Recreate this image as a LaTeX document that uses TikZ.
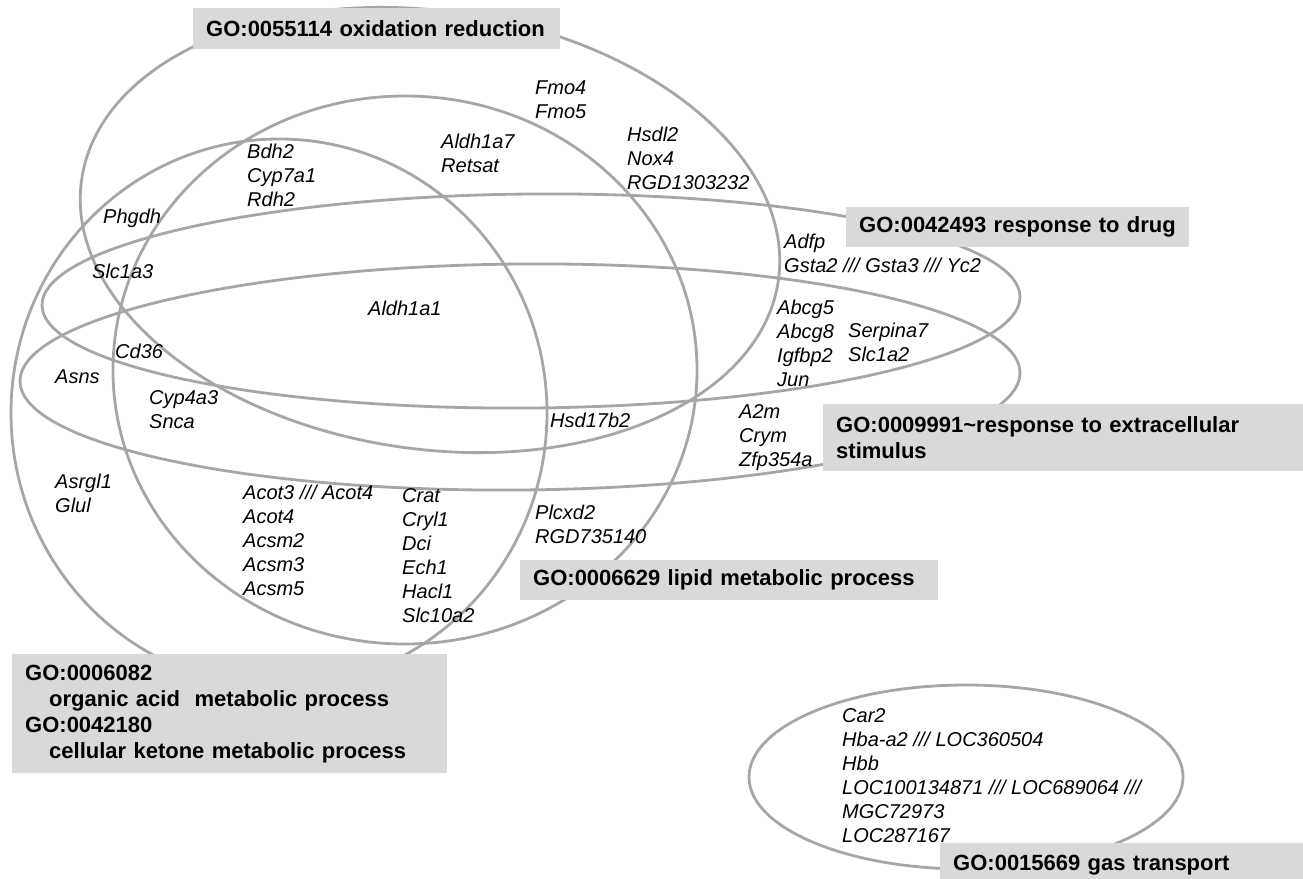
\documentclass[tikz,border=0pt]{standalone}
\usepackage{fontspec}
\setmainfont{Liberation Sans}
\usepackage{tikz}
\definecolor{setgray}{RGB}{166,166,166}
\definecolor{boxgray}{RGB}{217,217,217}
\tikzset{goset/.style={draw=setgray, line width=2.8pt}}
\tikzset{gene/.style={anchor=base west, inner sep=0pt, align=left, font=\fontsize{20}{24}\selectfont\itshape}}
\tikzset{gobox/.style={fill=boxgray, anchor=north west, inner xsep=13pt, inner ysep=0pt, align=left, font=\fontsize{22}{26}\selectfont\bfseries}}

\begin{document}
\begin{tikzpicture}[x=1pt,y=-1pt]
\path[use as bounding box, fill=white] (0,0) rectangle (1303,878);
\draw[goset] (430,230) ellipse [x radius=352, y radius=219, rotate=-8.3];
\draw[goset] (405,370) ellipse [x radius=292, y radius=274];
\draw[goset] (279,413) ellipse [x radius=268, y radius=274];
\draw[goset] (531,301) ellipse [x radius=489, y radius=107, rotate=0.5];
\draw[goset] (520,377) ellipse [x radius=500, y radius=113, rotate=0.5];
\draw[goset] (966,777) ellipse [x radius=217, y radius=92];
\node[gobox, minimum width=367pt, minimum height=41pt, text width=341pt] (oxred) at (193,8) {GO:0055114 oxidation reduction};
\node[gobox, minimum width=343pt, minimum height=40pt, text width=317pt] (drug) at (846,207) {GO:0042493 response to drug};
\node[gobox, minimum width=480pt, minimum height=67pt, text width=454pt] (stim) at (823,404) {GO:0009991\textasciitilde response to extracellular\\stimulus};
\node[gobox, minimum width=418pt, minimum height=40pt, text width=392pt] (lipid) at (520,560) {GO:0006629 lipid metabolic process};
\node[gobox, minimum width=435pt, minimum height=119pt, text width=409pt] (orgacid) at (12,654) {GO:0006082\\\hspace*{24pt}organic acid\ \ metabolic process\\GO:0042180\\\hspace*{24pt}cellular ketone metabolic process};
\node[gobox, minimum width=363pt, minimum height=44pt, text width=337pt] (gas) at (940,843) {GO:0015669 gas transport};
\node[gene] (fmo) at (535,118) {Fmo4\\Fmo5};
\node[gene] (aldh7) at (441,172) {Aldh1a7\\Retsat};
\node[gene] (hsdl) at (627,189) {Hsdl2\\Nox4\\RGD1303232};
\node[gene] (bdh) at (247,206) {Bdh2\\Cyp7a1\\Rdh2};
\node[gene] (phgdh) at (103,223) {Phgdh};
\node[gene] (slca3) at (92,278) {Slc1a3};
\node[gene] (aldh1) at (368,315) {Aldh1a1};
\node[gene] (cd36) at (115,358) {Cd36};
\node[gene] (asns) at (55,383) {Asns};
\node[gene] (cyp4) at (149,428) {Cyp4a3\\Snca};
\node[gene] (hsd17) at (550,427) {Hsd17b2};
\node[gene] (adfp) at (784,272) {Adfp\\Gsta2 /// Gsta3 /// Yc2};
\node[gene] (abcg) at (777,386) {Abcg5\\Abcg8\\Igfbp2\\Jun};
\node[gene] (serp) at (848,361) {Serpina7\\Slc1a2};
\node[gene] (atwom) at (739,466) {A2m\\Crym\\Zfp354a};
\node[gene] (asrgl) at (55,512) {Asrgl1\\Glul};
\node[gene] (acot) at (243,595) {Acot3 /// Acot4\\Acot4\\Acsm2\\Acsm3\\Acsm5};
\node[gene] (crat) at (402,622) {Crat\\Cryl1\\Dci\\Ech1\\Hacl1\\Slc10a2};
\node[gene] (plcxd) at (535,543) {Plcxd2\\RGD735140};
\node[gene] (hemo) at (842,842) {Car2\\Hba-a2 /// LOC360504\\Hbb\\LOC100134871 /// LOC689064 ///\\MGC72973\\LOC287167};
\end{tikzpicture}
\end{document}
